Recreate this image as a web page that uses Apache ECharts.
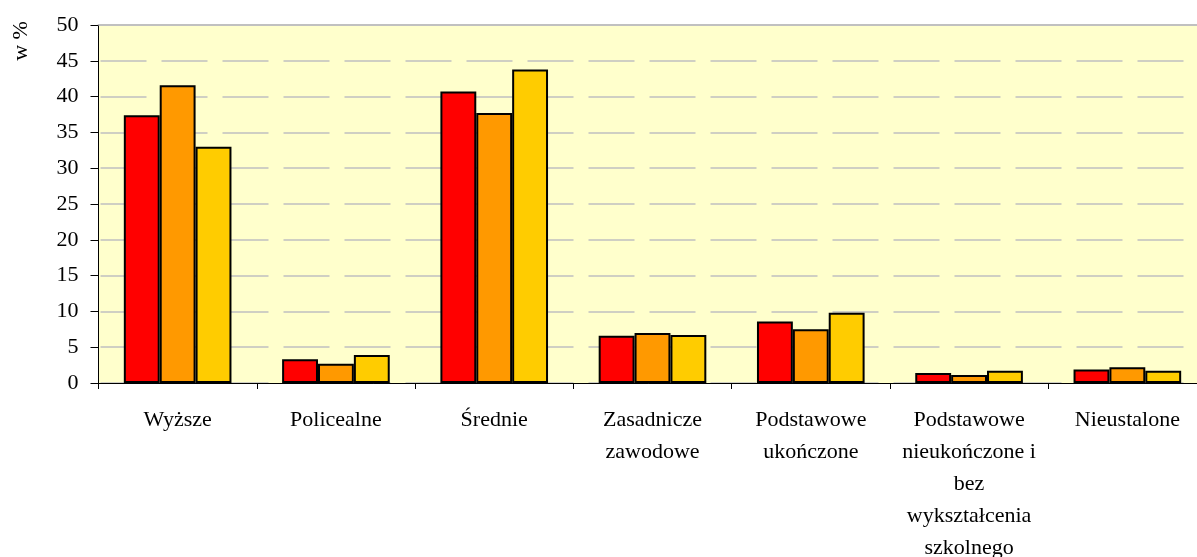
<!DOCTYPE html>
<html>
<head>
<meta charset="utf-8">
<script src="https://cdn.jsdelivr.net/npm/echarts@6/dist/echarts.min.js"></script>
<style>
  html, body { margin: 0; padding: 0; background: #fff; }
  #chart { width: 1197px; height: 557px; }
</style>
</head>
<body>
<div id="chart"></div>
<script>
var categories = [
  "Wyższe",
  "Policealne",
  "Średnie",
  "Zasadnicze\nzawodowe",
  "Podstawowe\nukończone",
  "Podstawowe\nnieukończone i\nbez\nwykształcenia\nszkolnego",
  "Nieustalone"
];
var seriesA = [37.4, 3.3, 40.7, 6.6, 8.6, 1.4, 1.9];
var seriesB = [41.6, 2.7, 37.7, 7.0, 7.5, 1.1, 2.2];
var seriesC = [33.0, 3.9, 43.8, 6.7, 9.8, 1.7, 1.7];
var seriesColors = ["#ff0000", "#ff9900", "#ffcc00"];

var chart = echarts.init(document.getElementById("chart"));
var font = "'Liberation Serif', 'Times New Roman', serif";

function bar(name, data, color) {
  return {
    name: name,
    type: "bar",
    data: data,
    barGap: "0%",
    barCategoryGap: "32%",
    itemStyle: { color: color, borderColor: "#000", borderWidth: 2 }
  };
}

var option = {
  animation: false,
  grid: {
    left: 98.5,
    top: 25,
    width: 1108,
    height: 358,
    outerBoundsMode: "none",
    containLabel: false,
    show: true,
    backgroundColor: "#ffffcc",
    borderWidth: 0
  },
  graphic: [{
    type: "text",
    x: 21,
    y: 41,
    rotation: Math.PI / 2,
    style: {
      text: "w %",
      font: "22px " + font,
      fill: "#000",
      align: "center",
      verticalAlign: "middle"
    }
  }],
  xAxis: [{
    type: "category",
    data: categories,
    axisLine: { lineStyle: { color: "#000", width: 1 } },
    axisTick: { show: true, length: 6, lineStyle: { color: "#000" } },
    axisLabel: {
      interval: 0,
      margin: 21,
      color: "#000",
      fontFamily: font,
      fontSize: 22,
      lineHeight: 32
    },
    splitLine: { show: false }
  }, {
    type: "category",
    position: "top",
    data: categories,
    axisLine: { lineStyle: { color: "#c0c0c0", width: 2 } },
    axisTick: { show: false },
    axisLabel: { show: false }
  }],
  yAxis: {
    type: "value",
    min: 0,
    max: 50,
    interval: 5,
    axisLine: { show: true, lineStyle: { color: "#000" } },
    axisTick: { show: true, length: 8, lineStyle: { color: "#000" } },
    axisLabel: {
      margin: 20,
      color: "#000",
      fontFamily: font,
      fontSize: 22
    },
    splitLine: {
      lineStyle: { color: "#c0c0c0", width: 1.5, type: [46, 15], dashOffset: -2 }
    }
  },
  series: [
    bar("Seria 1", seriesA, seriesColors[0]),
    bar("Seria 2", seriesB, seriesColors[1]),
    bar("Seria 3", seriesC, seriesColors[2])
  ]
};
chart.setOption(option);
</script>
</body>
</html>
